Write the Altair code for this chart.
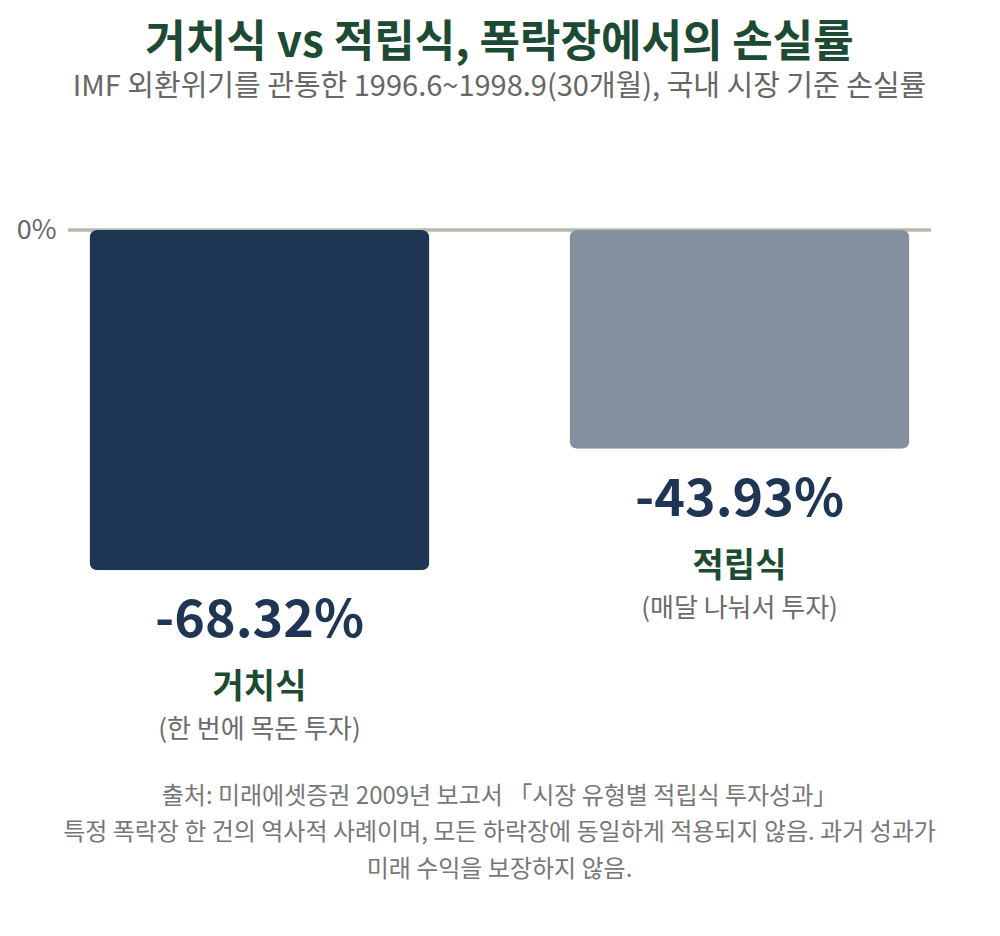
import altair as alt
import pandas as pd

FONT = "Noto Sans CJK KR"

categories = ["거치식", "적립식"]
values = [-68.32, -43.93]
value_labels = ["-68.32%", "-43.93%"]
descriptions = ["(한 번에 목돈 투자)", "(매달 나눠서 투자)"]
bar_colors = ["#1e3554", "#848fa0"]

title_text = "거치식 vs 적립식, 폭락장에서의 손실률"
subtitle_text = "IMF 외환위기를 관통한 1996.6~1998.9(30개월), 국내 시장 기준 손실률"
footnotes = [
    "출처: 미래에셋증권 2009년 보고서 「시장 유형별 적립식 투자성과」",
    "특정 폭락장 한 건의 역사적 사례이며, 모든 하락장에 동일하게 적용되지 않음. 과거 성과가",
    "미래 수익을 보장하지 않음.",
]
footnote_y = [567, 603, 640]

W, H = 863, 498

df = pd.DataFrame({"cat": categories, "value": values, "label": value_labels,
                   "desc": descriptions})

x = alt.X("cat:N", sort=categories, axis=None,
          scale=alt.Scale(paddingInner=0.2917, paddingOuter=0.0448))
y = alt.Y("value:Q", scale=alt.Scale(domain=[-100, 0], nice=False),
          axis=alt.Axis(values=[0], labelExpr="'0%'", domain=False, ticks=False,
                        grid=False, labelFontSize=27, labelColor="#666666",
                        labelFont=FONT, labelPadding=12, title=None))

base = alt.Chart(df)

rule = base.mark_rule(color="#b9b9ab", strokeWidth=3).encode(y=alt.datum(0))

bars = base.mark_bar(cornerRadius=8).encode(
    x=x, y=y,
    color=alt.Color("cat:N", scale=alt.Scale(domain=categories, range=bar_colors), legend=None),
)

val_text = base.mark_text(font=FONT, fontSize=52, fontWeight="bold", color="#1e3554",
                          baseline="middle", dy=51).encode(x=x, y=alt.Y("value:Q"), text="label:N")

cat_text = base.mark_text(font=FONT, fontSize=34, fontWeight="bold", color="#1c4a32",
                          baseline="middle", dy=118).encode(x=x, y=alt.Y("value:Q"), text="cat:N")

desc_text = base.mark_text(font=FONT, fontSize=26, color="#6b6b6b",
                           baseline="middle", dy=160).encode(x=x, y=alt.Y("value:Q"), text="desc:N")

title_mark = alt.Chart(pd.DataFrame({"t": [title_text]})).mark_text(
    font=FONT, fontSize=44, fontWeight="bold", color="#1c4a32", baseline="middle"
).encode(text="t:N", x=alt.value(W / 2), y=alt.value(-186))

subtitle_mark = alt.Chart(pd.DataFrame({"t": [subtitle_text]})).mark_text(
    font=FONT, fontSize=29, color="#666666", baseline="middle"
).encode(text="t:N", x=alt.value(W / 2), y=alt.value(-143))

foot_df = pd.DataFrame({"t": footnotes, "yy": footnote_y})
foot_mark = alt.Chart(foot_df).mark_text(
    font=FONT, fontSize=24, color="#777777", baseline="middle"
).encode(text="t:N", x=alt.value(W / 2), y=alt.Y("yy:Q", scale=None))

chart = alt.layer(rule, bars, val_text, cat_text, desc_text).properties(
    width=W, height=H
)
chart = alt.layer(chart, title_mark, subtitle_mark, foot_mark).resolve_scale(y="independent").properties(
    width=W, height=H,
    background="white",
    autosize=alt.AutoSizeParams(type="none"),
    padding={"left": 60, "top": 222, "right": 24, "bottom": 200},
).configure_view(strokeWidth=0, stroke=None)

chart.save("out.html", embed_options={"renderer": "svg", "actions": False})
